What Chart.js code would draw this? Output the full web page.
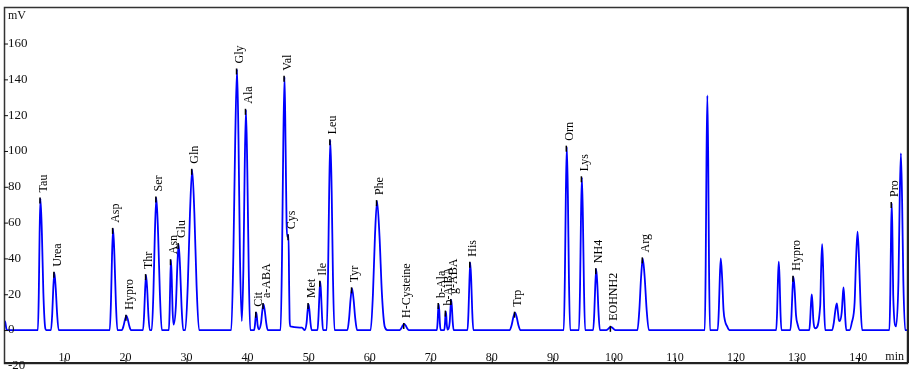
<!DOCTYPE html>
<html>
<head>
<meta charset="utf-8">
<script src="https://cdn.jsdelivr.net/npm/chart.js@4.4.1/dist/chart.umd.min.js"></script>
<style>
html,body{margin:0;padding:0;background:#fff;}
#wrap{width:914px;height:369px;position:relative;}
</style>
</head>
<body>
<div id="wrap"><canvas id="c" width="914" height="369"></canvas></div>
<script>
// ---- data ----
const yTicks = [-20, 0, 20, 40, 60, 80, 100, 120, 140, 160];
const xTicks = [10, 20, 30, 40, 50, 60, 70, 80, 90, 100, 110, 120, 130, 140];

// retention time (min) and signal (mV) of the trace
const traceTime = [
  0.1, 0.3, 0.55,
  5.65, 5.8, 5.93, 6.07, 6.31, 6.55, 6.82, 7.0,
  7.8, 8.0, 8.17, 8.35, 8.57, 8.8, 9.05,
  17.42, 17.62, 17.79, 17.97, 18.19, 18.42, 18.67,
  19.4, 19.67, 19.91, 20.15, 20.39, 20.63, 20.9,
  22.87, 23.05, 23.21, 23.37, 23.56, 23.75, 23.97,
  24.3, 24.57, 24.81, 25.05, 25.34, 25.63, 25.95,
  27.1, 27.23, 27.34, 27.45, 27.58, 27.71, 27.88,
  28.25, 28.48, 28.7, 28.94, 29.18, 29.45,
  29.8, 30.2, 30.56, 30.92, 31.28, 31.64, 32.05,
  37.32, 37.66, 37.97, 38.27, 38.51, 38.75, 39.05,
  39.31, 39.52, 39.73, 39.95, 40.18, 40.43,
  41.07, 41.2, 41.31, 41.42, 41.53, 41.64, 41.85,
  42.2, 42.4, 42.6, 42.82, 43.05, 43.3,
  45.4, 45.63, 45.84, 46.05, 46.22, 46.38, 46.5, 46.7, 46.8, 46.88, 47.0, 48.9, 49.35,
  49.66, 49.82, 49.98, 50.14, 50.3, 50.48,
  51.45, 51.61, 51.76, 51.9, 52.04, 52.19, 52.35,
  52.95, 53.17, 53.36, 53.55, 53.77, 53.98, 54.23,
  56.35, 56.62, 56.86, 57.1, 57.36, 57.63, 57.93,
  60.15, 60.53, 60.86, 61.2, 61.6, 62.0, 62.45, 62.9,
  64.9, 65.17, 65.41, 65.65, 65.89, 66.13, 66.4,
  71.0, 71.11, 71.2, 71.3, 71.4, 71.49, 71.62,
  72.22, 72.31, 72.39, 72.47, 72.55, 72.63, 72.75,
  73.11, 73.23, 73.35, 73.47, 73.59, 73.75,
  76.02, 76.18, 76.33, 76.47, 76.63, 76.79, 76.97,
  82.92, 83.24, 83.52, 83.8, 84.08, 84.36, 84.68,
  91.78, 91.96, 92.12, 92.28, 92.46, 92.63, 92.83,
  94.27, 94.45, 94.6, 94.75, 94.92, 95.09, 95.28,
  96.6, 96.78, 96.94, 97.1, 97.29, 97.48, 97.7,
  98.75, 99.02, 99.26, 99.5, 99.74, 99.98, 100.25,
  103.85, 104.16, 104.44, 104.72, 105.04, 105.36, 105.72,
  114.88, 115.03, 115.16, 115.3, 115.44, 115.57, 115.73,
  117.0, 117.18, 117.34, 117.5, 117.72, 117.95, 118.2, 118.55, 118.9,
  126.58, 126.73, 126.86, 127.0, 127.14, 127.27, 127.43,
  128.9, 129.08, 129.24, 129.4, 129.61, 129.82, 130.1, 130.45,
  132.0, 132.14, 132.27, 132.4, 132.53, 132.66, 133.0,
  133.78, 133.94, 134.1, 134.26, 134.42, 134.6,
  135.75, 136.02, 136.26, 136.5, 136.66, 136.82, 136.95,
  137.31, 137.46, 137.6, 137.74, 137.89, 138.05,
  138.6, 138.95, 139.42, 139.66, 139.9, 140.14, 140.38, 140.65,
  145.12, 145.26, 145.38, 145.5, 145.62, 145.74, 146.2,
  146.6, 146.8, 147.0, 147.2, 147.4, 147.7, 148.0
];
const traceMV = [
  5.2, 4.5, 0,
  0, 20.6, 53.7, 73.5, 53.7, 20.6, 2, 0,
  0, 9, 23.4, 32, 23.4, 9, 0,
  0, 15.8, 41.2, 56.5, 41.2, 15.8, 0,
  0, 2.2, 5.8, 8, 5.8, 2.2, 0,
  0, 8.6, 22.4, 30.7, 22.4, 8.6, 0,
  0, 20.7, 54, 74, 54, 20.7, 0,
  0, 10.9, 28.5, 39, 28.5, 10.9, 3,
  13.4, 35, 48, 35, 13.4, 0,
  0, 25, 65.3, 89.5, 65.3, 25, 0,
  0, 40.7, 106.2, 145.5, 106.2, 40.7, 5,
  34.4, 89.8, 123, 89.8, 34.4, 0,
  0, 2.7, 7.1, 9.7, 7.1, 2.7, 0.4,
  4, 10.6, 14.5, 10.6, 4, 0,
  0, 39.6, 103.3, 141.5, 103, 60, 52, 53, 25, 6, 2, 1.3, 0,
  4, 10.6, 14.5, 10.6, 4, 0,
  0, 7.6, 19.7, 27, 19.7, 7.6, 0,
  0, 29.7, 77.4, 106, 77.4, 29.7, 0,
  0, 6.5, 17, 23.3, 17, 6.5, 0,
  0, 20.2, 52.6, 72, 52.6, 20.2, 2, 0,
  0, 1, 2.5, 3.4, 2.5, 1, 0,
  0, 4, 10.6, 14.5, 10.6, 4, 0,
  0, 2.9, 7.5, 10.3, 7.5, 2.9, 0.3,
  4.7, 12.3, 16.8, 12.3, 4.7, 0,
  0, 10.5, 27.4, 37.6, 27.4, 10.5, 0,
  0, 2.7, 7.1, 9.7, 7.1, 2.7, 0,
  0, 28.7, 74.8, 102.4, 74.8, 28.7, 0,
  0, 23.9, 62.3, 85.3, 62.3, 23.9, 0,
  0, 9.5, 24.8, 34, 24.8, 9.5, 0,
  0, 0.5, 1.3, 1.8, 1.3, 0.5, 0,
  0, 11.2, 29.2, 40, 29.2, 11.2, 0,
  0, 36.7, 95.6, 131, 95.6, 36.7, 0,
  0, 11.2, 29.2, 40, 29.2, 11.2, 5, 2, 0,
  0, 10.7, 27.9, 38.2, 27.9, 10.7, 0,
  0, 8.3, 21.8, 29.8, 21.8, 8.3, 3, 0,
  0, 5.6, 14.5, 19.9, 14.5, 5.6, 1,
  13.4, 35, 47.9, 35, 13.4, 0,
  0, 4.2, 10.9, 14.9, 10.9, 6, 5,
  10, 18, 23.8, 17.4, 6.7, 0,
  0, 4, 15.4, 40, 55, 40, 15.4, 0,
  0, 19.9, 51.8, 71, 51.8, 19.9, 2,
  27.6, 72, 98.7, 72, 27.6, 0, 0
];

// named peaks: label, apex time (min), apex height (mV)
const peakNames = ["Tau","Urea","Asp","Hypro","Thr","Ser","Asn","Glu","Gln","Gly","Ala","Cit","a-ABA","Val","Cys","Met","Ile","Leu","Tyr","Phe","H-Cysteine","b-Ala","b-AiBA","g-ABA","His","Trp","Orn","Lys","NH4","EOHNH2","Arg","Hypro","Pro"];
const peakTimes = [6.07,8.35,17.97,20.15,23.37,25.05,27.45,28.7,30.92,38.27,39.73,41.42,42.6,46.05,46.7,49.98,51.9,53.55,57.1,61.2,65.65,71.3,72.47,73.35,76.47,83.8,92.28,94.75,97.1,99.5,104.72,129.4,145.5];
const peakHeights = [73.5,32,56.5,8,30.7,74,39,48,89.5,145.5,123,9.7,14.5,141.5,53,14.5,27,106,23.3,72,3.4,14.5,10.3,16.8,37.6,9.7,102.4,85.3,34,1.8,40,29.8,71];

const points = traceTime.map((t, i) => ({x: t, y: traceMV[i]}));

const SERIF = '"Liberation Serif", "DejaVu Serif", serif';

const decor = {
  id: 'decor',
  afterDraw(chart) {
    const ctx = chart.ctx;
    const a = chart.chartArea;
    const xs = chart.scales.x, ys = chart.scales.y;
    ctx.save();
    // frame
    ctx.strokeStyle = '#333';
    ctx.lineWidth = 1.5;
    ctx.strokeRect(a.left + 0.5, a.top + 0.5, a.right - a.left, a.bottom - a.top);
    ctx.lineWidth = 2;
    ctx.strokeStyle = '#222';
    ctx.beginPath();
    ctx.moveTo(a.left, a.bottom); ctx.lineTo(a.right + 1, a.bottom);
    ctx.moveTo(a.right + 1, a.top); ctx.lineTo(a.right + 1, a.bottom);
    ctx.stroke();

    // y ticks and labels (inside)
    ctx.fillStyle = '#111';
    ctx.strokeStyle = '#111';
    ctx.lineWidth = 1;
    ctx.font = '13px ' + SERIF;
    ctx.textAlign = 'left';
    ctx.textBaseline = 'middle';
    yTicks.forEach(v => {
      const py = ys.getPixelForValue(v);
      if (py >= a.top && py <= a.bottom) {
        ctx.beginPath();
        ctx.moveTo(a.left, py + 0.5); ctx.lineTo(a.left + 4, py + 0.5);
        ctx.stroke();
      }
      ctx.fillText(String(v), a.left + 4, py);
    });
    // x ticks and labels (inside, above bottom axis)
    ctx.font = '12px ' + SERIF;
    ctx.textAlign = 'center';
    ctx.textBaseline = 'alphabetic';
    xTicks.forEach(t => {
      const px = xs.getPixelForValue(t);
      ctx.beginPath();
      ctx.moveTo(px + 0.5, a.bottom); ctx.lineTo(px + 0.5, a.bottom - 5);
      ctx.stroke();
      ctx.fillText(String(t), px, a.bottom - 2);
    });
    // unit labels
    ctx.font = '12px ' + SERIF;
    ctx.textAlign = 'left';
    ctx.textBaseline = 'middle';
    ctx.fillText('mV', a.left + 4, a.top + 9);
    ctx.textAlign = 'right';
    ctx.textBaseline = 'alphabetic';
    ctx.fillText('min', a.right - 3, a.bottom - 3);

    // peak markers and names
    ctx.font = '12px ' + SERIF;
    ctx.strokeStyle = '#000';
    ctx.lineWidth = 1.5;
    peakNames.forEach((name, i) => {
      const px = xs.getPixelForValue(peakTimes[i]);
      const py = ys.getPixelForValue(peakHeights[i]);
      ctx.beginPath();
      ctx.moveTo(px - 0.5, py - 1); ctx.lineTo(px - 0.5, py + 5);
      ctx.stroke();
      ctx.save();
      ctx.translate(px + 3, py - 6);
      ctx.rotate(-Math.PI / 2);
      ctx.textAlign = 'left';
      ctx.textBaseline = 'middle';
      ctx.fillStyle = '#000';
      ctx.fillText(name, 0, 0);
      ctx.restore();
    });
    ctx.restore();
  }
};

new Chart(document.getElementById('c'), {
  type: 'scatter',
  data: {
    datasets: [{
      data: points,
      showLine: true,
      borderColor: '#0000ff',
      borderWidth: 1.8,
      pointRadius: 0,
      cubicInterpolationMode: 'monotone',
      fill: false
    }]
  },
  options: {
    responsive: false,
    animation: false,
    events: [],
    layout: { padding: { left: 4, right: 7, top: 7, bottom: 6 } },
    plugins: { legend: { display: false }, tooltip: { enabled: false } },
    scales: {
      x: { type: 'linear', min: 0.1, max: 148, display: false },
      y: { type: 'linear', min: -18.4, max: 180.4, display: false }
    }
  },
  plugins: [decor]
});
</script>
</body>
</html>
